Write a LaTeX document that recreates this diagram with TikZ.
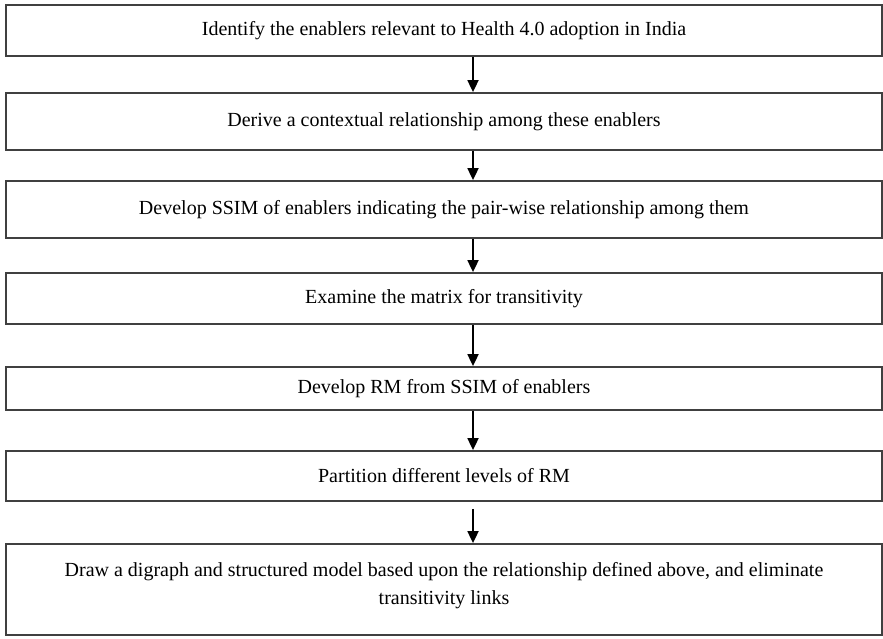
\documentclass[tikz,border=0pt]{standalone}
\usepackage{fontspec}
\setmainfont{Liberation Serif}
\usetikzlibrary{arrows.meta}
\begin{document}
\begin{tikzpicture}[x=1pt,y=-1pt,
  stepbox/.style={draw=black!75, line width=1.8pt, rectangle, minimum width=876pt,
    inner sep=0pt, align=center, font=\fontsize{20}{28}\selectfont},
  flow/.style={draw=black, line width=1.8pt, -{Triangle[length=12pt,width=11pt]}}]
  \useasboundingbox (0,0) rectangle (883,638);
  \coordinate (ax) at (473,0);
  \node[stepbox, minimum height=51pt] (b1) at (444,30.5) {Identify the enablers relevant to Health 4.0 adoption in India};
  \node[stepbox, minimum height=57pt] (b2) at (444,121.5) {Derive a contextual relationship among these enablers};
  \node[stepbox, minimum height=57pt] (b3) at (444,209.5) {Develop SSIM of enablers indicating the pair-wise relationship among them};
  \node[stepbox, minimum height=51pt] (b4) at (444,298.5) {Examine the matrix for transitivity};
  \node[stepbox, minimum height=43pt] (b5) at (444,388.5) {Develop RM from SSIM of enablers};
  \node[stepbox, minimum height=50pt] (b6) at (444,476) {Partition different levels of RM};
  \node[stepbox, minimum height=91pt] (b7) at (444,589.5) {Draw a digraph and structured model based upon the relationship defined above, and eliminate\\transitivity links\\[-16pt]};
  \draw[flow] (b1.south -| ax) -- (b2.north -| ax);
  \draw[flow] (b2.south -| ax) -- (b3.north -| ax);
  \draw[flow] (b3.south -| ax) -- (b4.north -| ax);
  \draw[flow] (b4.south -| ax) -- (b5.north -| ax);
  \draw[flow] (b5.south -| ax) -- (b6.north -| ax);
  \draw[flow, shorten <=7pt] (b6.south -| ax) -- (b7.north -| ax);
\end{tikzpicture}
\end{document}
